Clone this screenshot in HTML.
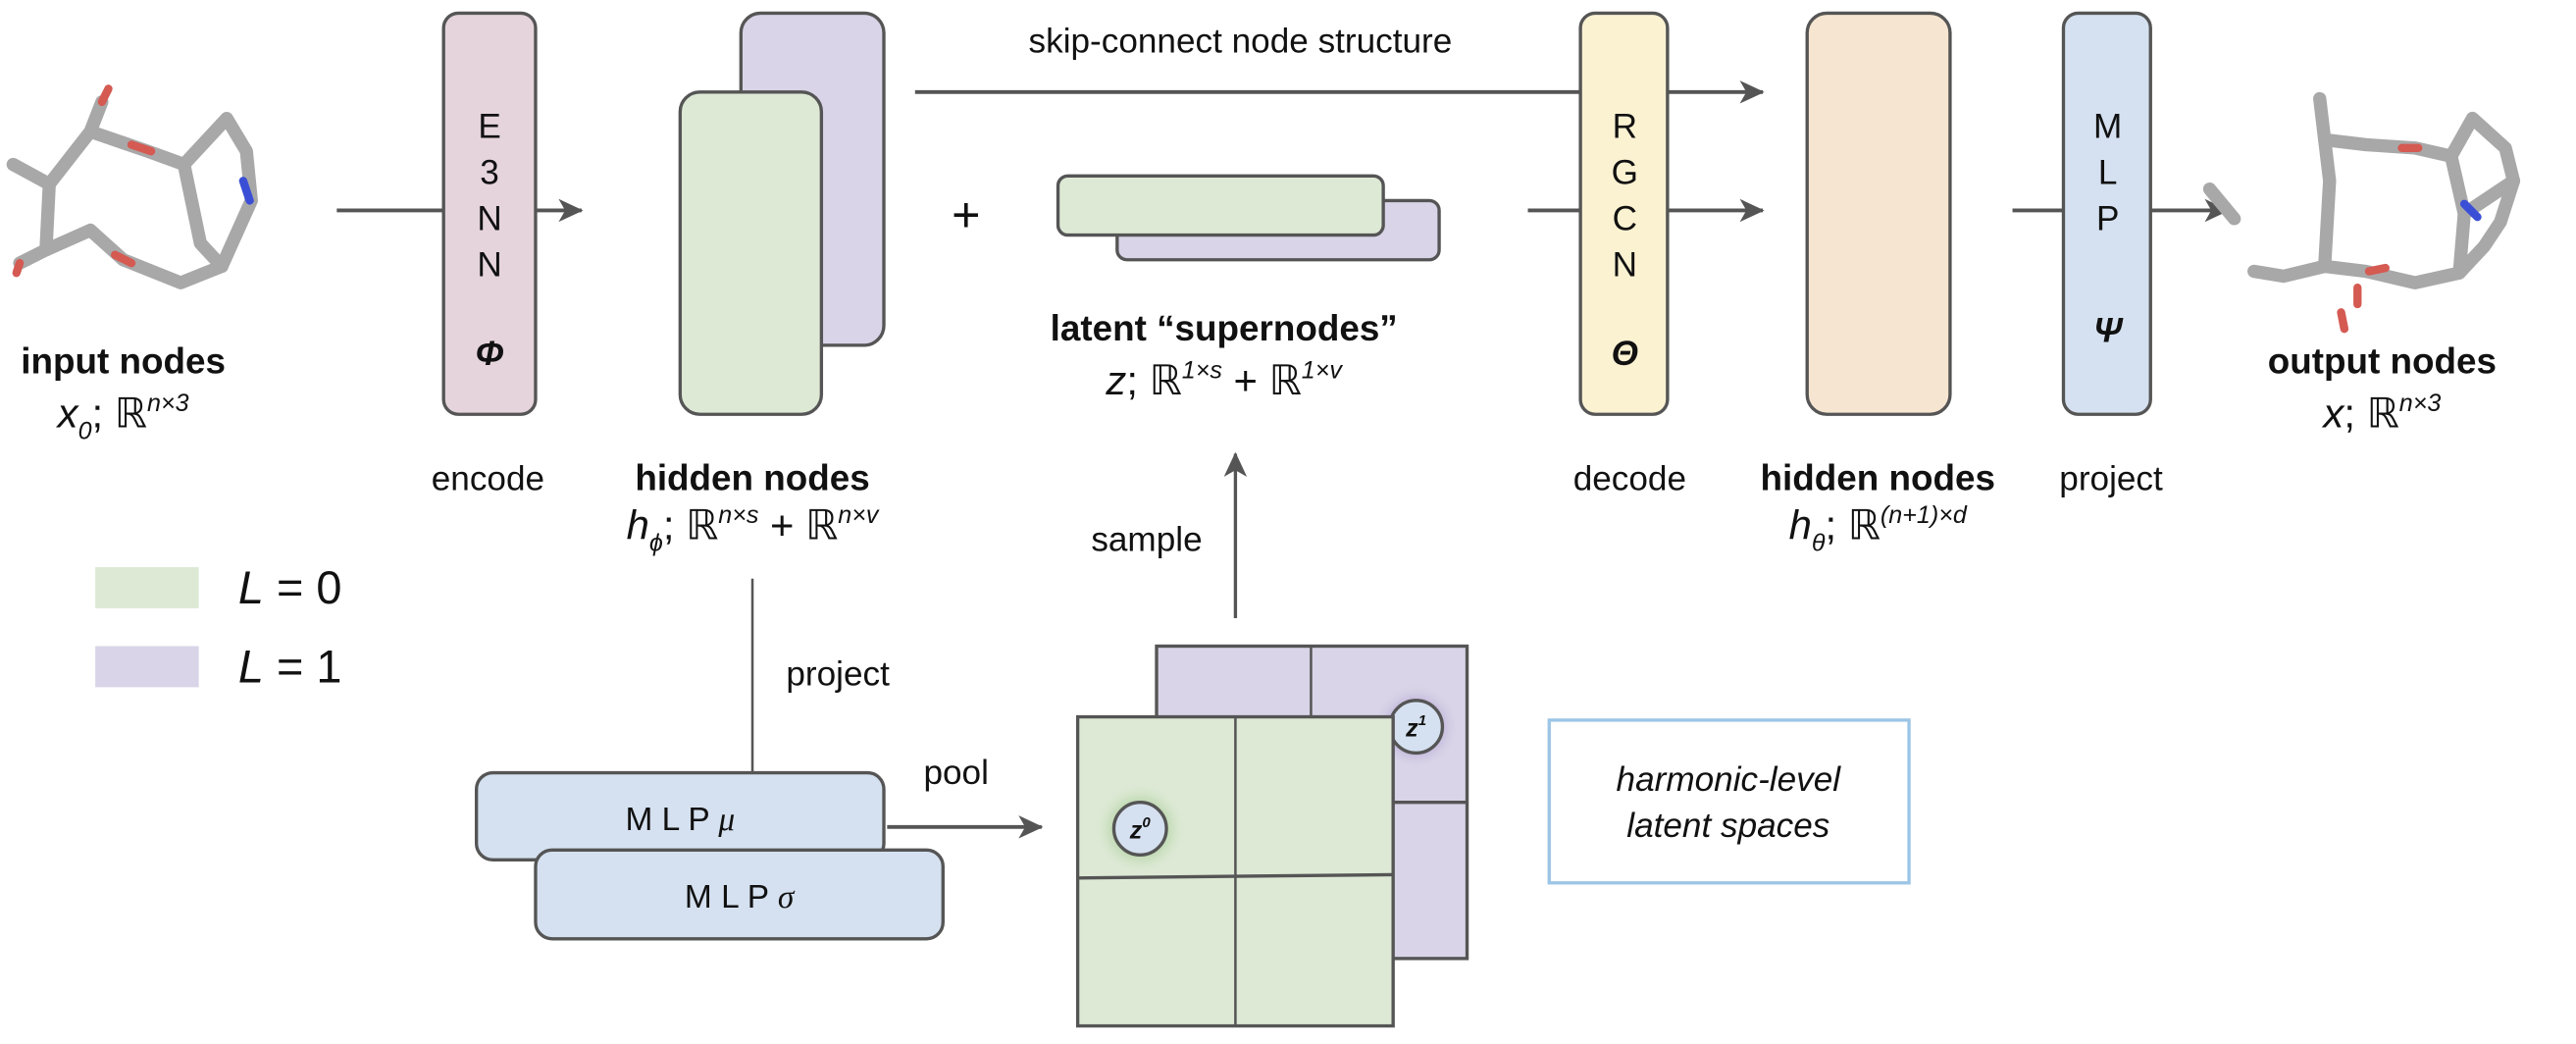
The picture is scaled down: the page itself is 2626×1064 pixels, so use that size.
<!DOCTYPE html>
<html><head><meta charset="utf-8"><style>
html,body{margin:0;padding:0;background:#fff;}
svg{display:block;}
text{font-family:"Liberation Sans",sans-serif;fill:#111;}
</style></head><body>
<svg width="2626" height="1064" viewBox="0 0 1568 635" preserveAspectRatio="none" xmlns="http://www.w3.org/2000/svg">
<defs>
<marker id="ah" markerWidth="16" markerHeight="16" refX="14" refY="7" orient="auto" markerUnits="userSpaceOnUse">
<path d="M0,0 L15,7 L0,14 L4,7 Z" fill="#555"/></marker>
<radialGradient id="gg"><stop offset="0.4" stop-color="#8fc07a" stop-opacity="0.8"/><stop offset="1" stop-color="#dde9d5" stop-opacity="0"/></radialGradient>
<radialGradient id="pg"><stop offset="0.4" stop-color="#9a86c8" stop-opacity="0.8"/><stop offset="1" stop-color="#d9d4e7" stop-opacity="0"/></radialGradient>
</defs>
<g stroke="#555" stroke-width="2.3" fill="none">
<line x1="205" y1="128" x2="354" y2="128" marker-end="url(#ah)"/>
<line x1="557" y1="56" x2="1073" y2="56" marker-end="url(#ah)"/>
<line x1="930" y1="128" x2="1073" y2="128" marker-end="url(#ah)"/>
<line x1="1225" y1="128" x2="1356" y2="128" marker-end="url(#ah)"/>
<line x1="752" y1="376" x2="752" y2="276" marker-end="url(#ah)" stroke-width="2"/>
<line x1="540" y1="503" x2="634" y2="503" marker-end="url(#ah)"/>
<line x1="458" y1="352" x2="458" y2="470" stroke-width="1.5"/>
</g>
<g stroke="#555" stroke-width="2">
<rect x="270" y="8" width="56" height="244" rx="9" fill="#e5d4dc"/>
<rect x="451" y="8" width="87" height="202" rx="12" fill="#d9d4e7"/>
<rect x="414" y="56" width="86" height="196" rx="12" fill="#dde9d5"/>
<rect x="680" y="122" width="196" height="36" rx="6" fill="#d9d4e7"/>
<rect x="644" y="107" width="198" height="36" rx="6" fill="#dde9d5"/>
<rect x="962" y="8" width="53" height="244" rx="9" fill="#fbf2d2"/>
<rect x="1100" y="8" width="87" height="244" rx="12" fill="#f6e5d0"/>
<rect x="1256" y="8" width="53" height="244" rx="9" fill="#d5e1f0"/>
<rect x="290" y="470" width="248" height="53" rx="10" fill="#d5e1f0"/>
<rect x="326" y="517" width="248" height="54" rx="10" fill="#d5e1f0"/>
</g>
<rect x="704" y="393" width="189" height="190" fill="#d9d4e7" stroke="#555" stroke-width="2"/>
<line x1="798" y1="393" x2="798" y2="436" stroke="#555" stroke-width="1.5"/>
<line x1="848" y1="488" x2="893" y2="488" stroke="#555" stroke-width="2"/>
<circle cx="862" cy="442" r="26" fill="url(#pg)"/>
<circle cx="862" cy="442" r="16" fill="#d5e1f0" stroke="#555" stroke-width="2"/>
<rect x="656" y="436" width="192" height="188" fill="#dde9d5" stroke="#555" stroke-width="2"/>
<line x1="752" y1="436" x2="752" y2="624" stroke="#555" stroke-width="1.5"/>
<line x1="656" y1="534" x2="848" y2="532" stroke="#555" stroke-width="2"/>
<circle cx="694" cy="504" r="28" fill="url(#gg)"/>
<circle cx="694" cy="504" r="16" fill="#d5e1f0" stroke="#555" stroke-width="2"/>
<text x="694" y="510" font-size="15" font-weight="bold" font-style="italic" font-family="Liberation Serif" text-anchor="middle">z<tspan font-size="9" dy="-7">0</tspan></text>
<text x="862" y="448" font-size="15" font-weight="bold" font-style="italic" font-family="Liberation Serif" text-anchor="middle">z<tspan font-size="9" dy="-7">1</tspan></text>
<rect x="943" y="438" width="219" height="99" fill="#fff" stroke="#9cc5e6" stroke-width="2"/>
<text x="1052" y="481" font-size="21" font-style="italic" text-anchor="middle">harmonic-level</text>
<text x="1052" y="509" font-size="21" font-style="italic" text-anchor="middle">latent spaces</text>
<rect x="58" y="345" width="63" height="25" fill="#dde9d5"/>
<rect x="58" y="393" width="63" height="25" fill="#d9d4e7"/>
<text x="145" y="367" font-size="28"><tspan font-style="italic">L</tspan> = 0</text>
<text x="145" y="415" font-size="28"><tspan font-style="italic">L</tspan> = 1</text>
<g font-size="21" text-anchor="middle">
<text x="298" y="84">E</text><text x="298" y="112">3</text><text x="298" y="140">N</text><text x="298" y="168">N</text>
<text x="298" y="222" font-style="italic" font-family="Liberation Serif" font-weight="bold">Φ</text>
<text x="989" y="84">R</text><text x="989" y="112">G</text><text x="989" y="140">C</text><text x="989" y="168">N</text>
<text x="989" y="222" font-style="italic" font-family="Liberation Serif" font-weight="bold">Θ</text>
<text x="1283" y="84">M</text><text x="1283" y="112">L</text><text x="1283" y="140">P</text>
<text x="1283" y="208" font-style="italic" font-family="Liberation Serif" font-weight="bold">Ψ</text>
</g>
<g font-size="21" text-anchor="middle">
<text x="755" y="32">skip-connect node structure</text>
<text x="297" y="298">encode</text>
<text x="992" y="298">decode</text>
<text x="1285" y="298">project</text>
<text x="698" y="335">sample</text>
<text x="510" y="417">project</text>
<text x="582" y="477">pool</text>
<text x="588" y="141" font-size="30">+</text>
<text x="414" y="505" font-size="20">M L P <tspan font-style="italic" font-family="Liberation Serif">μ</tspan></text>
<text x="450" y="552" font-size="20">M L P <tspan font-style="italic" font-family="Liberation Serif">σ</tspan></text>
<g font-weight="bold" font-size="22">
<text x="75" y="227">input nodes</text>
<text x="458" y="298">hidden nodes</text>
<text x="745" y="207">latent “supernodes”</text>
<text x="1143" y="298">hidden nodes</text>
<text x="1450" y="227">output nodes</text>
</g>
<g font-size="25">
<text x="75" y="260"><tspan font-style="italic">x</tspan><tspan font-size="15" dy="7" font-style="italic">0</tspan><tspan dy="-7">; ℝ</tspan><tspan font-size="15" dy="-10" font-style="italic">n×3</tspan></text>
<text x="458" y="328"><tspan font-style="italic">h</tspan><tspan font-size="15" dy="7" font-style="italic">ϕ</tspan><tspan dy="-7">; ℝ</tspan><tspan font-size="15" dy="-10" font-style="italic">n×s</tspan><tspan dy="10"> + ℝ</tspan><tspan font-size="15" dy="-10" font-style="italic">n×v</tspan></text>
<text x="745" y="240"><tspan font-style="italic">z</tspan>; ℝ<tspan font-size="15" dy="-10" font-style="italic">1×s</tspan><tspan dy="10"> + ℝ</tspan><tspan font-size="15" dy="-10" font-style="italic">1×v</tspan></text>
<text x="1143" y="328"><tspan font-style="italic">h</tspan><tspan font-size="15" dy="7" font-style="italic">θ</tspan><tspan dy="-7">; ℝ</tspan><tspan font-size="15" dy="-10" font-style="italic">(n+1)×d</tspan></text>
<text x="1450" y="260"><tspan font-style="italic">x</tspan>; ℝ<tspan font-size="15" dy="-10" font-style="italic">n×3</tspan></text>
</g>
</g>
<g stroke="#a8a8a8" stroke-width="8" stroke-linecap="round" stroke-linejoin="round" fill="none">
<polyline points="8,100 30,112 55,80 90,92 112,100 138,72 150,92 153,122 135,162 110,172 75,158 55,140 28,152 12,160"/>
<polyline points="112,100 122,148 135,162"/>
<line x1="30" y1="112" x2="28" y2="152"/>
<line x1="55" y1="80" x2="62" y2="62"/>
<line x1="1345" y1="115" x2="1360" y2="133"/>
<polyline points="1412,60 1415,85 1440,88 1470,90 1492,95 1505,72 1525,90 1530,110 1522,135 1512,150 1497,166 1470,172 1440,165 1415,162 1390,168 1372,165"/>
<polyline points="1415,85 1418,110 1415,162"/>
<polyline points="1492,95 1500,130 1497,166"/>
<line x1="1530" y1="110" x2="1500" y2="130"/>
</g>
<g stroke="#d45a52" stroke-width="5" stroke-linecap="round">
<line x1="80" y1="88" x2="92" y2="92"/><line x1="70" y1="155" x2="80" y2="160"/>
<line x1="62" y1="62" x2="66" y2="54"/><line x1="12" y1="160" x2="10" y2="166"/>
<line x1="1462" y1="90" x2="1472" y2="90"/><line x1="1442" y1="165" x2="1452" y2="163"/>
<line x1="1435" y1="175" x2="1435" y2="185"/><line x1="1425" y1="190" x2="1427" y2="200"/>
</g>
<g stroke="#3a4fd6" stroke-width="5" stroke-linecap="round">
<line x1="148" y1="110" x2="152" y2="122"/><line x1="1500" y1="124" x2="1508" y2="132"/>
</g>
</svg>
</body></html>
